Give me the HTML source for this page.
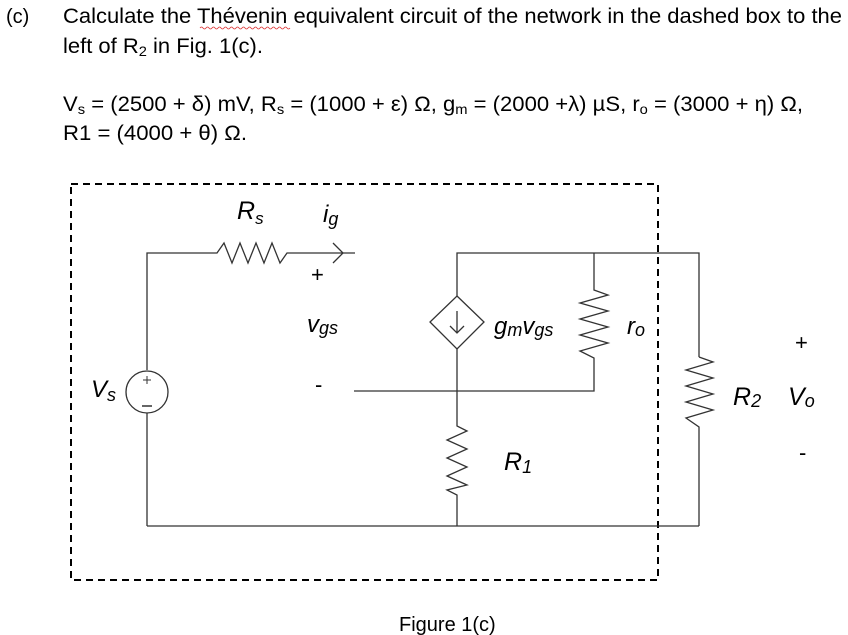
<!DOCTYPE html>
<html><head><meta charset="utf-8"><style>
html,body{margin:0;padding:0;background:#fff;}
svg{display:block;}
text{font-family:"Liberation Sans",Arial,sans-serif;fill:#000;}
.i{font-style:italic;}
</style></head><body>
<svg width="848" height="635" viewBox="0 0 848 635">
<!-- header text -->
<text x="6" y="23" font-size="20">(c)</text>
<text x="63" y="23" font-size="21" textLength="779" lengthAdjust="spacingAndGlyphs">Calculate the Thévenin equivalent circuit of the network in the dashed box to the</text>
<path d="M200 28 q1.5 -2 3 0 t3 0 t3 0 t3 0 t3 0 t3 0 t3 0 t3 0 t3 0 t3 0 t3 0 t3 0 t3 0 t3 0 t3 0 t3 0 t3 0 t3 0 t3 0 t3 0 t3 0 t3 0 t3 0 t3 0 t3 0 t3 0 t3 0 t3 0 t3 0 t3 0" stroke="#d33" stroke-width="0.8" fill="none"/>
<text x="63" y="53" font-size="21" textLength="200" lengthAdjust="spacingAndGlyphs">left of R<tspan font-size="14" dy="3">2</tspan><tspan dy="-3"> in Fig. 1(c).</tspan></text>
<text x="63" y="111" font-size="21" textLength="740" lengthAdjust="spacingAndGlyphs">V<tspan font-size="14" dy="3">s</tspan><tspan dy="-3"> = (2500 + δ) mV, R</tspan><tspan font-size="14" dy="3">s</tspan><tspan dy="-3"> = (1000 + ε) Ω, g</tspan><tspan font-size="14" dy="3">m</tspan><tspan dy="-3"> = (2000 +λ) µS, r</tspan><tspan font-size="14" dy="3">o</tspan><tspan dy="-3"> = (3000 + η) Ω,</tspan></text>
<text x="63" y="140" font-size="21" textLength="184" lengthAdjust="spacingAndGlyphs">R1 = (4000 + θ) Ω.</text>

<!-- dashed box -->
<rect x="71" y="184" width="587" height="396" fill="none" stroke="#000" stroke-width="2" stroke-dasharray="7,5"/>

<g stroke="#333" stroke-width="1.3" fill="none">
<polyline points="147,370 147,253 217,253 224,243 232,263 240,243 248,263 256,243 264,263 272,243 280,263 287,253 355,253"/>
<polyline points="333,243 343,253 333,263"/>
<line x1="147" y1="413" x2="147" y2="526"/>
<line x1="147" y1="526" x2="699" y2="526"/>
<circle cx="147" cy="392" r="21"/>
<line x1="143" y1="380" x2="151" y2="380" stroke-width="1"/>
<line x1="147" y1="376" x2="147" y2="384" stroke-width="1"/>
<line x1="142" y1="406" x2="152" y2="406" stroke-width="1.5"/>
<polyline points="457,296 457,253 699,253 699,357"/>
<polygon points="457,296 484,322 457,349 430,322"/>
<line x1="457" y1="311" x2="457" y2="333"/>
<polyline points="450,326 457,333 464,326"/>
<polyline points="457,349 457,426 467,431 447,440 467,449 447,458 467,467 447,476 467,485 447,490 457,495 457,526"/>
<polyline points="594,253 594,290 608,295 580,303 608,311 580,319 608,327 580,335 608,343 580,351 594,358 594,391 354,391"/>
<polyline points="699,357 713,362 686,370 713,378 686,386 713,394 686,402 713,410 686,418 699,427 699,526"/>
</g>

<!-- labels -->
<text x="237" y="219" font-size="25" class="i">R<tspan font-size="17" dy="5">s</tspan></text>
<text x="323" y="222" font-size="24" class="i">i<tspan font-size="18" dy="3">g</tspan></text>
<text x="311" y="282" font-size="22">+</text>
<text x="307" y="332" font-size="24" class="i">v<tspan font-size="18" dy="2">gs</tspan></text>
<text x="315" y="392" font-size="22">-</text>
<text x="91" y="397" font-size="24" class="i">V<tspan font-size="18" dy="4">s</tspan></text>
<text x="494" y="334" font-size="24" class="i">g<tspan font-size="18" dy="2">m</tspan><tspan dy="-2">v</tspan><tspan font-size="18" dy="2">gs</tspan></text>
<text x="627" y="334" font-size="24" class="i">r<tspan font-size="18" dy="2">o</tspan></text>
<text x="795" y="350" font-size="22">+</text>
<text x="733" y="405" font-size="25" class="i">R<tspan font-size="18" dy="2">2</tspan></text>
<text x="788" y="405" font-size="25" class="i">V<tspan font-size="18" dy="2">o</tspan></text>
<text x="799" y="460" font-size="22">-</text>
<text x="504" y="470" font-size="25" class="i">R<tspan font-size="18" dy="3">1</tspan></text>

<text x="399" y="631" font-size="20">Figure 1(c)</text>
</svg>
</body></html>
